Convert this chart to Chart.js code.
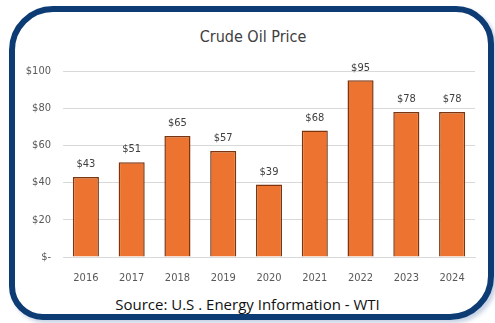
<!DOCTYPE html>
<html>
<head>
<meta charset="utf-8">
<script src="https://cdn.jsdelivr.net/npm/chart.js@4.4.1/dist/chart.umd.min.js"></script>
<style>
  html, body { margin: 0; padding: 0; background: #ffffff; }
  body { width: 495px; height: 323px; position: relative; overflow: hidden; }
  #frame {
    position: absolute; left: 9px; top: 6px; width: 485px; height: 314px;
    box-sizing: border-box; border: 6px solid #0d3b73; border-radius: 44px 38px 44px 34px;
    box-shadow: 3px 3px 4px rgba(150, 170, 205, 0.55);
    background: #ffffff;
  }
  #wrap { position: absolute; left: 0; top: 0; width: 495px; height: 290px; }
  #title {
    position: absolute; left: 9px; width: 488px; top: 27px; text-align: center;
    font-family: "DejaVu Sans Condensed", sans-serif; font-size: 16px; color: #404040;
  }
  #source {
    position: absolute; left: 0; width: 495px; top: 294px; text-align: center;
    font-family: "Open Sans", sans-serif; font-size: 15px; color: #111111;
  }
</style>
</head>
<body>
<div id="frame"></div>
<div id="title">Crude Oil Price</div>
<div id="wrap"><canvas id="chart"></canvas></div>
<div id="source">Source: U.S . Energy Information - WTI</div>
<script>
// WTI crude oil, average annual price (USD per barrel)
const years = ['2016', '2017', '2018', '2019', '2020', '2021', '2022', '2023', '2024'];
const prices = [43, 51, 65, 57, 39, 68, 95, 78, 78];
const yTicks = [0, 20, 40, 60, 80, 100];

const narrow = '"DejaVu Sans Condensed", "Liberation Sans Narrow", sans-serif';

// Prints "$value" above each bar
const valueLabels = {
  id: 'valueLabels',
  afterDatasetsDraw(chart) {
    const ctx = chart.ctx;
    const meta = chart.getDatasetMeta(0);
    ctx.save();
    ctx.font = '11px ' + narrow;
    ctx.fillStyle = '#404040';
    ctx.textAlign = 'center';
    ctx.textBaseline = 'bottom';
    meta.data.forEach((bar, i) => {
      ctx.fillText('$' + prices[i], bar.x, bar.y - 7);
    });
    ctx.restore();
  }
};

new Chart(document.getElementById('chart'), {
  type: 'bar',
  data: {
    labels: years,
    datasets: [{
      data: prices,
      backgroundColor: '#ec7430',
      borderColor: '#7d3510',
      borderWidth: 1.5,
      borderSkipped: 'bottom',
      barPercentage: 0.57,
      categoryPercentage: 1.0
    }]
  },
  options: {
    responsive: true,
    maintainAspectRatio: false,
    animation: false,
    layout: { padding: { top: 71, right: 20, left: 0, bottom: 0 } },
    plugins: {
      legend: { display: false },
      tooltip: { enabled: false },
      title: { display: false }
    },
    scales: {
      x: {
        grid: { display: false, drawTicks: false },
        border: { display: true, color: '#d9d9d9' },
        ticks: { color: '#595959', font: { family: narrow, size: 11 }, padding: 15 },
        afterFit(scale) { scale.height = 33; }
      },
      y: {
        min: 0,
        max: 100,
        afterBuildTicks(scale) { scale.ticks = yTicks.map(v => ({ value: v })); },
        grid: { color: '#d9d9d9', drawTicks: false },
        border: { display: false },
        ticks: {
          color: '#595959',
          font: { family: narrow, size: 11 },
          padding: 12,
          callback: v => v === 0 ? '$-' : '$' + v
        },
        afterFit(scale) { scale.width = 63; }
      }
    }
  },
  plugins: [valueLabels]
});
</script>
</body>
</html>
